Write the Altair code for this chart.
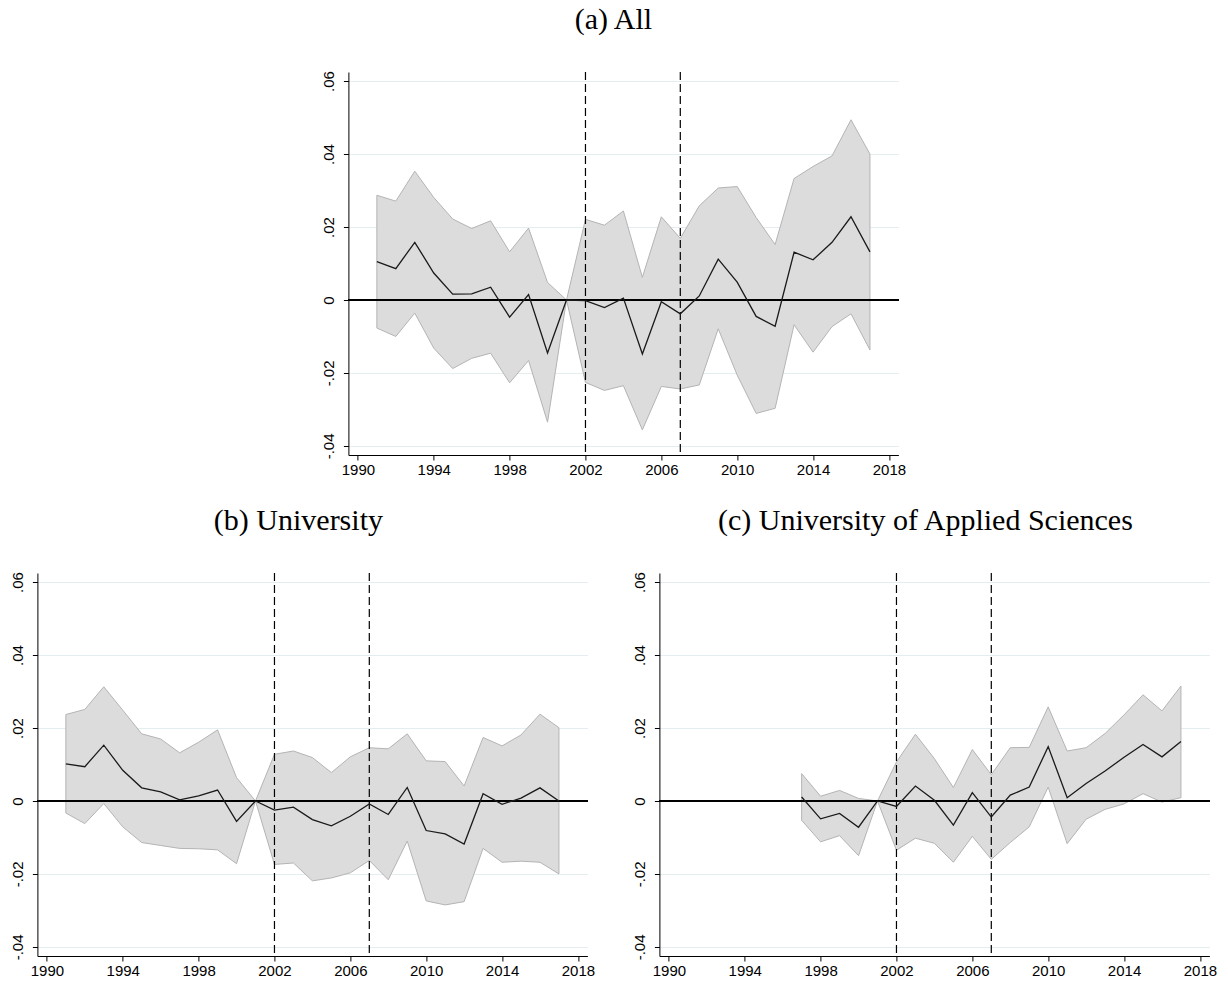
import altair as alt
import pandas as pd

# Event-study coefficients with 95% confidence bands (reference year 2001 = 0)
years_all = list(range(1991, 2018))
coef_all = [0.0105, 0.0086, 0.0158, 0.0074, 0.0016, 0.0017, 0.0035, -0.0047, 0.0015,
            -0.0145, 0.0, -0.0002, -0.0021, 0.0005, -0.0148, -0.0005, -0.0038, 0.0011,
            0.0112, 0.0049, -0.0045, -0.0072, 0.0131, 0.0110, 0.0158, 0.0228, 0.0132]
upper_all = [0.0287, 0.0271, 0.0353, 0.0281, 0.0222, 0.0196, 0.0217, 0.0132, 0.0197,
             0.0048, 0.0, 0.0221, 0.0205, 0.0244, 0.0062, 0.0228, 0.0169, 0.0258,
             0.0307, 0.0311, 0.0226, 0.0152, 0.0333, 0.0366, 0.0395, 0.0494, 0.0400]
lower_all = [-0.0077, -0.0100, -0.0036, -0.0132, -0.0188, -0.0160, -0.0146, -0.0227, -0.0166,
             -0.0335, 0.0, -0.0226, -0.0248, -0.0235, -0.0356, -0.0237, -0.0244, -0.0233,
             -0.0079, -0.0206, -0.0311, -0.0297, -0.0068, -0.0143, -0.0073, -0.0038, -0.0137]

years_uni = list(range(1991, 2018))
coef_uni = [0.0102, 0.0094, 0.0153, 0.0084, 0.0036, 0.0025, 0.0003, 0.0014, 0.0030,
            -0.0056, 0.0, -0.0025, -0.0017, -0.0051, -0.0068, -0.0042, -0.0008, -0.0037,
            0.0037, -0.0081, -0.0090, -0.0118, 0.0020, -0.0009, 0.0008, 0.0036, 0.0000]
upper_uni = [0.0237, 0.0251, 0.0313, 0.0249, 0.0184, 0.0170, 0.0132, 0.0161, 0.0195,
             0.0064, 0.0, 0.0128, 0.0137, 0.0119, 0.0078, 0.0121, 0.0146, 0.0143,
             0.0184, 0.0110, 0.0108, 0.0041, 0.0174, 0.0151, 0.0181, 0.0238, 0.0201]
lower_uni = [-0.0033, -0.0062, -0.0007, -0.0071, -0.0114, -0.0122, -0.0130, -0.0131, -0.0134,
             -0.0172, 0.0, -0.0174, -0.0170, -0.0219, -0.0211, -0.0197, -0.0163, -0.0216,
             -0.0110, -0.0274, -0.0285, -0.0276, -0.0130, -0.0168, -0.0165, -0.0168, -0.0200]

years_uas = list(range(1997, 2018))
coef_uas = [0.0011, -0.0049, -0.0034, -0.0072, 0.0, -0.0015, 0.0041, 0.0002, -0.0066,
            0.0023, -0.0044, 0.0016, 0.0038, 0.0149, 0.0009, 0.0048, 0.0082, 0.0120,
            0.0155, 0.0121, 0.0163]
upper_uas = [0.0075, 0.0013, 0.0029, 0.0007, 0.0, 0.0107, 0.0183, 0.0116, 0.0037,
             0.0141, 0.0072, 0.0146, 0.0147, 0.0258, 0.0137, 0.0146, 0.0185, 0.0236,
             0.0291, 0.0247, 0.0315]
lower_uas = [-0.0053, -0.0112, -0.0095, -0.0150, 0.0, -0.0135, -0.0102, -0.0116, -0.0168,
             -0.0097, -0.0160, -0.0114, -0.0071, 0.0038, -0.0117, -0.0050, -0.0023, -0.0008,
             0.0020, -0.0003, 0.0009]

policy_years = [2002, 2007]
x_ticks = [1990, 1994, 1998, 2002, 2006, 2010, 2014, 2018]
y_ticks = [-0.04, -0.02, 0.0, 0.02, 0.04, 0.06]

TICK_FONT = "Liberation Sans"
TITLE_FONT = "Liberation Serif"

x_scale = alt.Scale(domain=[1989.5, 2018.5], nice=False, zero=False)
y_scale = alt.Scale(domain=[-0.0425, 0.0625], nice=False, zero=False)

x_axis = alt.Axis(values=x_ticks, format="d", grid=False, tickSize=5, tickColor="black",
                  domainColor="black", labelFont=TICK_FONT, labelFontSize=15,
                  labelColor="black", labelPadding=2, labelFlush=False, labelOverlap=False)
y_axis = alt.Axis(values=y_ticks, grid=True, gridColor="#e4eef0", gridWidth=1,
                  tickSize=5, tickColor="black", domainColor="black",
                  labelFont=TICK_FONT, labelFontSize=15, labelColor="black",
                  labelAngle=270, labelAlign="center", labelBaseline="alphabetic",
                  labelPadding=10, labelFlush=False, labelOverlap=False,
                  labelExpr="datum.value == 0 ? '0' : (datum.value < 0 ? '-' : '') + '.0' + round(abs(datum.value) * 100)")


def panel(years, coef, lower, upper, title, dx=0):
    df = pd.DataFrame({"year": years, "coef": coef, "lower": lower, "upper": upper})
    x = alt.X("year:Q", scale=x_scale, axis=x_axis, title=None)

    band = alt.Chart(df).mark_area(fill="#dcdcdc", stroke="#b4b4b4", strokeWidth=1,
                                   opacity=1).encode(
        x=x,
        y=alt.Y("lower:Q", scale=y_scale, axis=y_axis, title=None),
        y2="upper:Q",
    )
    vlines = alt.Chart(pd.DataFrame({"year": policy_years})).mark_rule(
        color="black", strokeWidth=1.2, strokeDash=[8, 4]
    ).encode(x=x)
    zero = alt.Chart(df).mark_rule(color="black", strokeWidth=1.4).encode(y=alt.datum(0))
    line = alt.Chart(df).mark_line(color="#1a1a1a", strokeWidth=1.3).encode(
        x=x, y=alt.Y("coef:Q", scale=y_scale, axis=y_axis, title=None)
    )
    return alt.layer(band, vlines, zero, line).properties(
        width=550, height=383,
        title=alt.TitleParams(title, font=TITLE_FONT, fontSize=30, fontWeight="normal",
                              color="black", anchor="middle", baseline="alphabetic",
                              offset=12, dx=dx),
    )


top = panel(years_all, coef_all, lower_all, upper_all, "(a) All", dx=-10)
left = panel(years_uni, coef_uni, lower_uni, upper_uni, "(b) University", dx=-14)
right = panel(years_uas, coef_uas, lower_uas, upper_uas,
              "(c) University of Applied Sciences", dx=-9)

chart = alt.vconcat(
    top,
    alt.hconcat(left, right, spacing=36),
    spacing=28,
    center=True,
).properties(
    padding={"left": 10, "top": 4, "right": 0, "bottom": 0},
    background="white",
).configure_view(stroke=None)

chart.save("out.html", embed_options={"renderer": "svg", "actions": False})
